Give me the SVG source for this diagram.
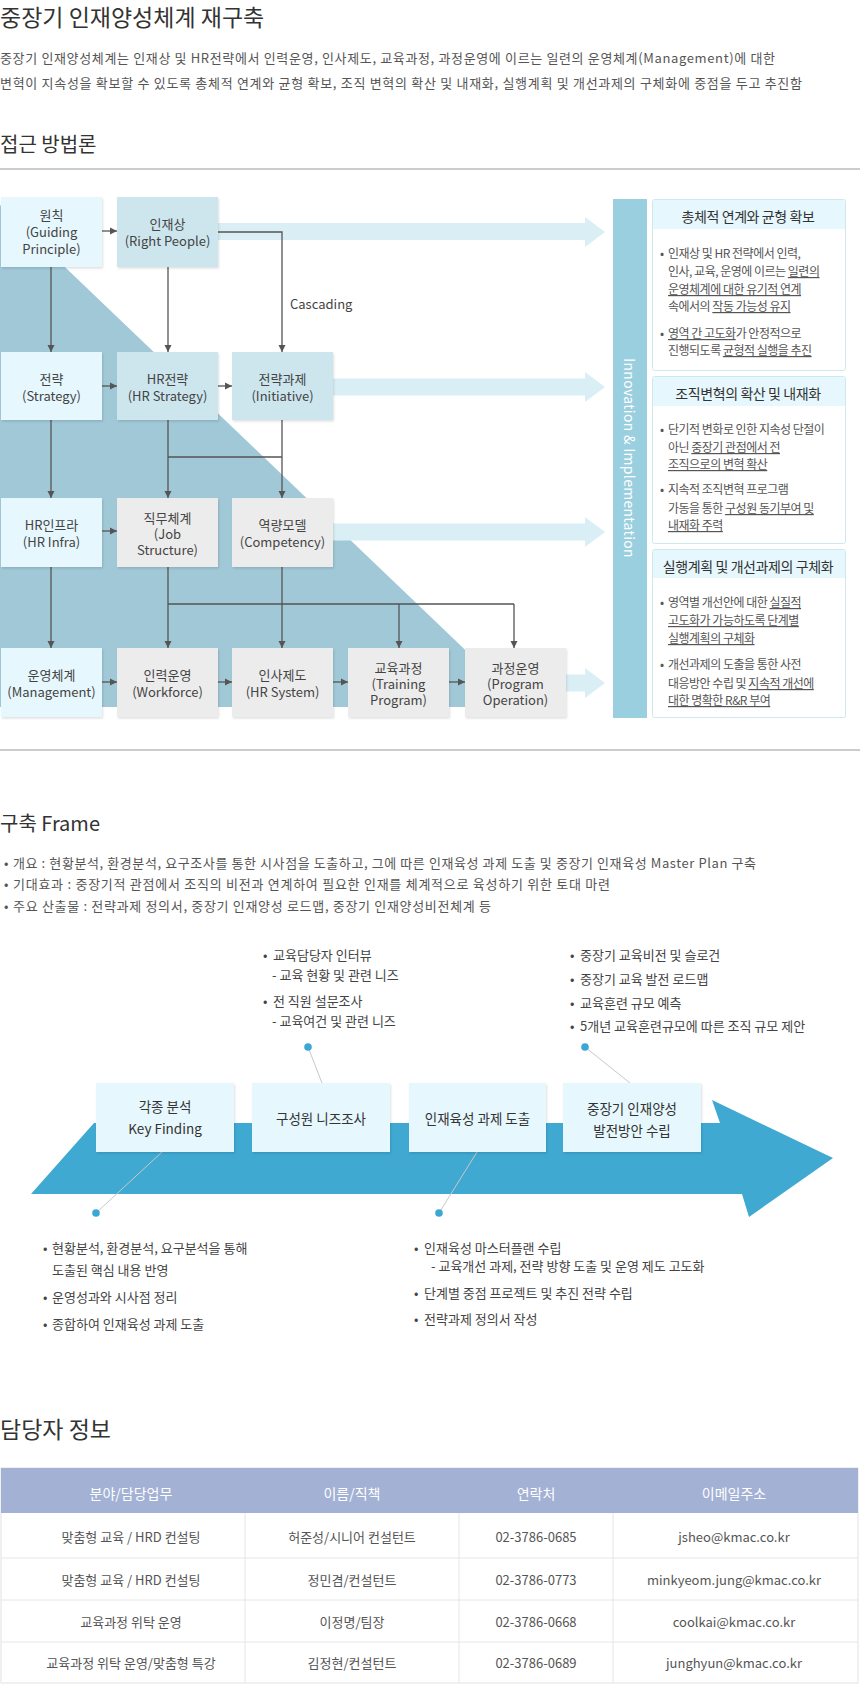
<svg xmlns="http://www.w3.org/2000/svg" width="860" height="1704" viewBox="0 0 860 1704">
<defs>
<style>
text{font-family:"Noto Sans CJK KR","Noto Sans",sans-serif;dominant-baseline:central}
.h1{font-size:23px;fill:#333}
.h2{font-size:20px;fill:#333}
.p{font-size:13px;fill:#555}
.bx{font-size:13px;fill:#444;text-anchor:middle}
.c1{fill:#e6f7fd}
.c2{fill:#cde6ee}
.c3{fill:#ececec}
.conn{stroke:#555;stroke-width:1.3;fill:none}
.arw{marker-end:url(#ah)}
.big{fill:#d9eff5}
.pnl{fill:#fff;stroke:#cfe8f0;stroke-width:1}
.phd{fill:#e6f7fd}
.ph{font-size:14px;fill:#333;text-anchor:middle;letter-spacing:-0.4px}
.pt{font-size:12px;fill:#555;letter-spacing:-0.5px}
.u{text-decoration:underline}
.ft{font-size:13px;fill:#444}
.fb{fill:#e6f7fd}
.fbt{font-size:13.5px;fill:#333;text-anchor:middle}
.lead{stroke:#c8c8c8;stroke-width:1}
.dot{fill:#3aa8d4}
.th{font-size:14px;fill:#fff;text-anchor:middle}
.td{font-size:13px;fill:#555;text-anchor:middle}
.grid{stroke:#e6e6e6;stroke-width:1}
</style>
<marker id="ah" markerUnits="userSpaceOnUse" markerWidth="8" markerHeight="8" refX="7" refY="4" orient="auto"><path d="M0,0.5 L7,4 L0,7.5 z" fill="#555"/></marker>
<filter id="sh" x="-5%" y="-5%" width="115%" height="120%"><feDropShadow dx="1" dy="1.5" stdDeviation="1" flood-color="#000" flood-opacity="0.12"/></filter>
</defs>
<rect width="860" height="1704" fill="#fff"/>

<!-- Header -->
<g id="header">
<text class="h1" x="0" y="16">중장기 인재양성체계 재구축</text>
<text class="p" x="0" y="57" textLength="775">중장기 인재양성체계는 인재상 및 HR전략에서 인력운영, 인사제도, 교육과정, 과정운영에 이르는 일련의 운영체계(Management)에 대한</text>
<text class="p" x="0" y="82" textLength="802">변혁이 지속성을 확보할 수 있도록 총체적 연계와 균형 확보, 조직 변혁의 확산 및 내재화, 실행계획 및 개선과제의 구체화에 중점을 두고 추진함</text>
<text class="h2" x="0" y="143">접근 방법론</text>
<rect x="0" y="168" width="860" height="2" fill="#cccccc"/>
</g>

<!-- Approach diagram background -->
<g id="background">
<polygon points="0,205 525,707 0,707" fill="#a0c8d6"/>
<polygon class="big" points="218,223 585,223 585,217 605,232 585,247 585,240 218,240"/>
<polygon class="big" points="333,378.5 585,378.5 585,372 605,387 585,402 585,395.5 333,395.5"/>
<polygon class="big" points="333,523.5 585,523.5 585,517 605,532 585,547 585,540.5 333,540.5"/>
<polygon class="big" points="566,674.5 585,674.5 585,668 605,683 585,698 585,691.5 566,691.5"/>
</g>

<g id="connectors">
<line class="conn arw" x1="102" y1="231" x2="117" y2="231"/>
<line class="conn arw" x1="51" y1="267" x2="51" y2="352"/>
<line class="conn arw" x1="168" y1="267" x2="168" y2="352"/>
<polyline class="conn arw" points="218,232 282,232 282,352"/>
<text x="290" y="303" font-size="13" fill="#444">Cascading</text>
<line class="conn arw" x1="102" y1="386" x2="117" y2="386"/>
<line class="conn arw" x1="218" y1="386" x2="232" y2="386"/>
<line class="conn arw" x1="51" y1="420" x2="51" y2="498"/>
<line class="conn arw" x1="168" y1="420" x2="168" y2="498"/>
<line class="conn arw" x1="282" y1="420" x2="282" y2="498"/>
<line class="conn" x1="168" y1="457" x2="282" y2="457"/>
<line class="conn arw" x1="102" y1="531" x2="117" y2="531"/>
<line class="conn arw" x1="51" y1="567" x2="51" y2="648"/>
<line class="conn arw" x1="168" y1="567" x2="168" y2="648"/>
<line class="conn arw" x1="282" y1="567" x2="282" y2="648"/>
<line class="conn" x1="168" y1="604" x2="514" y2="604"/>
<line class="conn arw" x1="399" y1="604" x2="399" y2="648"/>
<line class="conn arw" x1="514" y1="604" x2="514" y2="648"/>
<line class="conn arw" x1="102" y1="682" x2="117" y2="682"/>
<line class="conn arw" x1="218" y1="682" x2="232" y2="682"/>
<line class="conn arw" x1="333" y1="682" x2="348" y2="682"/>
<line class="conn arw" x1="449" y1="682" x2="465" y2="682"/>
</g>

<!-- Row 1 -->
<g id="n-principle"><rect class="c1" x="1" y="197" width="101" height="70" filter="url(#sh)"/>
<text class="bx" x="51.5"><tspan x="51.5" y="214">원칙</tspan><tspan x="51.5" y="231">(Guiding</tspan><tspan x="51.5" y="248">Principle)</tspan></text></g>
<g id="n-rightpeople"><rect class="c2" x="117" y="197" width="101" height="70" filter="url(#sh)"/>
<text class="bx"><tspan x="167.5" y="223">인재상</tspan><tspan x="167.5" y="240">(Right People)</tspan></text></g>
<!-- Row 2 -->
<g id="n-strategy"><rect class="c1" x="1" y="352" width="101" height="68" filter="url(#sh)"/>
<text class="bx"><tspan x="51.5" y="378">전략</tspan><tspan x="51.5" y="395">(Strategy)</tspan></text></g>
<g id="n-hrstrategy"><rect class="c2" x="117" y="352" width="101" height="68" filter="url(#sh)"/>
<text class="bx"><tspan x="167.5" y="378">HR전략</tspan><tspan x="167.5" y="395">(HR Strategy)</tspan></text></g>
<g id="n-initiative"><rect class="c2" x="232" y="352" width="101" height="68" filter="url(#sh)"/>
<text class="bx"><tspan x="282.5" y="378">전략과제</tspan><tspan x="282.5" y="395">(Initiative)</tspan></text></g>
<!-- Row 3 -->
<g id="n-hrinfra"><rect class="c1" x="1" y="498" width="101" height="69" filter="url(#sh)"/>
<text class="bx"><tspan x="51.5" y="524">HR인프라</tspan><tspan x="51.5" y="541">(HR Infra)</tspan></text></g>
<g id="n-job"><rect class="c3" x="117" y="498" width="101" height="69" filter="url(#sh)"/>
<text class="bx"><tspan x="167.5" y="517">직무체계</tspan><tspan x="167.5" y="533">(Job</tspan><tspan x="167.5" y="549">Structure)</tspan></text></g>
<g id="n-competency"><rect class="c3" x="232" y="498" width="101" height="69" filter="url(#sh)"/>
<text class="bx"><tspan x="282.5" y="524">역량모델</tspan><tspan x="282.5" y="541">(Competency)</tspan></text></g>
<!-- Row 4 -->
<g id="n-management"><rect class="c1" x="1" y="648" width="101" height="69" filter="url(#sh)"/>
<text class="bx"><tspan x="51.5" y="674">운영체계</tspan><tspan x="51.5" y="691">(Management)</tspan></text></g>
<g id="n-workforce"><rect class="c3" x="117" y="648" width="101" height="69" filter="url(#sh)"/>
<text class="bx"><tspan x="167.5" y="674">인력운영</tspan><tspan x="167.5" y="691">(Workforce)</tspan></text></g>
<g id="n-hrsystem"><rect class="c3" x="232" y="648" width="101" height="69" filter="url(#sh)"/>
<text class="bx"><tspan x="282.5" y="674">인사제도</tspan><tspan x="282.5" y="691">(HR System)</tspan></text></g>
<g id="n-training"><rect class="c3" x="348" y="648" width="101" height="69" filter="url(#sh)"/>
<text class="bx"><tspan x="398.5" y="667">교육과정</tspan><tspan x="398.5" y="683">(Training</tspan><tspan x="398.5" y="699">Program)</tspan></text></g>
<g id="n-operation"><rect class="c3" x="465" y="648" width="101" height="69" filter="url(#sh)"/>
<text class="bx"><tspan x="515.5" y="667">과정운영</tspan><tspan x="515.5" y="683">(Program</tspan><tspan x="515.5" y="699">Operation)</tspan></text></g>

<!-- Innovation bar -->
<g id="n-innovation">
<rect x="613" y="199" width="34" height="519" fill="#9acfe0"/>
<text transform="translate(630,458) rotate(90)" text-anchor="middle" font-size="14" fill="#fff" letter-spacing="0.3">Innovation &amp; Implementation</text>
</g>

<!-- Panels -->
<g id="panel-1">
<rect class="pnl" x="652.5" y="199.5" width="193" height="171" rx="2"/>
<rect class="phd" x="653" y="200" width="192" height="29"/>
<text class="ph" x="748" y="216">총체적 연계와 균형 확보</text>
<text class="pt" x="660" y="252">•</text>
<text class="pt" x="668" y="252">인재상 및 HR 전략에서 인력,</text>
<text class="pt" x="668" y="270">인사, 교육, 운영에 이르는 <tspan class="u">일련의</tspan></text>
<text class="pt" x="668" y="288"><tspan class="u">운영체계에 대한 유기적 연계</tspan></text>
<text class="pt" x="668" y="305">속에서의 <tspan class="u">작동 가능성 유지</tspan></text>
<text class="pt" x="660" y="332">•</text>
<text class="pt" x="668" y="332"><tspan class="u">영역 간 고도화</tspan>가 안정적으로</text>
<text class="pt" x="668" y="349">진행되도록 <tspan class="u">균형적 실행을 추진</tspan></text>
</g>
<g id="panel-2">
<rect class="pnl" x="652.5" y="376.5" width="193" height="167" rx="2"/>
<rect class="phd" x="653" y="377" width="192" height="29"/>
<text class="ph" x="748" y="393">조직변혁의 확산 및 내재화</text>
<text class="pt" x="660" y="428">•</text>
<text class="pt" x="668" y="428">단기적 변화로 인한 지속성 단절이</text>
<text class="pt" x="668" y="446">아닌 <tspan class="u">중장기 관점에서 전 </tspan></text>
<text class="pt" x="668" y="463"><tspan class="u">조직으로의 변혁 확산</tspan></text>
<text class="pt" x="660" y="488">•</text>
<text class="pt" x="668" y="488">지속적 조직변혁 프로그램</text>
<text class="pt" x="668" y="507">가동을 통한 <tspan class="u">구성원 동기부여 및</tspan></text>
<text class="pt" x="668" y="524"><tspan class="u">내재화 주력</tspan></text>
</g>
<g id="panel-3">
<rect class="pnl" x="652.5" y="549.5" width="193" height="168" rx="2"/>
<rect class="phd" x="653" y="550" width="192" height="28"/>
<text class="ph" x="748" y="566">실행계획 및 개선과제의 구체화</text>
<text class="pt" x="660" y="601">•</text>
<text class="pt" x="668" y="601">영역별 개선안에 대한 <tspan class="u">실질적</tspan></text>
<text class="pt" x="668" y="619"><tspan class="u">고도화가 가능하도록 단계별</tspan></text>
<text class="pt" x="668" y="637"><tspan class="u">실행계획의 구체화</tspan></text>
<text class="pt" x="660" y="663">•</text>
<text class="pt" x="668" y="663">개선과제의 도출을 통한 사전</text>
<text class="pt" x="668" y="682">대응방안 수립 및 <tspan class="u">지속적 개선에</tspan></text>
<text class="pt" x="668" y="699"><tspan class="u">대한 명확한 R&amp;R 부여</tspan></text>
</g>

<rect x="0" y="749" width="860" height="2" fill="#cccccc"/>

<!-- Frame section -->
<g id="frame-header">
<text class="h2" x="0" y="822">구축 Frame</text>
<text class="p" x="4" y="862">•</text>
<text class="p" x="13" y="862" textLength="743">개요 : 현황분석, 환경분석, 요구조사를 통한 시사점을 도출하고, 그에 따른 인재육성 과제 도출 및 중장기 인재육성 Master Plan 구축</text>
<text class="p" x="4" y="883">•</text>
<text class="p" x="13" y="883" textLength="597">기대효과 : 중장기적 관점에서 조직의 비전과 연계하여 필요한 인재를 체계적으로 육성하기 위한 토대 마련</text>
<text class="p" x="4" y="905">•</text>
<text class="p" x="13" y="905" textLength="478">주요 산출물 : 전략과제 정의서, 중장기 인재양성 로드맵, 중장기 인재양성비전체계 등</text>
</g>

<g id="frame-arrow">
<polygon points="94,1123 720,1123 712,1100 833,1158 749,1217 742,1194 31,1194" fill="#3fa9d1"/>
</g>

<g id="frame-leaders">
<line class="lead" x1="308" y1="1047" x2="322" y2="1083"/>
<line class="lead" x1="585" y1="1047" x2="630" y2="1083"/>
<line class="lead" x1="162" y1="1152" x2="96" y2="1213"/>
<line class="lead" x1="477" y1="1152" x2="439" y2="1213"/>
<circle class="dot" cx="308" cy="1047" r="3.8"/>
<circle class="dot" cx="585" cy="1047" r="3.8"/>
<circle class="dot" cx="96" cy="1213" r="3.8"/>
<circle class="dot" cx="439" cy="1213" r="3.8"/>
</g>

<g id="f-keyfinding"><rect class="fb" x="96" y="1083" width="138" height="69" filter="url(#sh)"/>
<text class="fbt"><tspan x="165" y="1106">각종 분석</tspan><tspan x="165" y="1128">Key Finding</tspan></text></g>
<g id="f-needs"><rect class="fb" x="252" y="1083" width="138" height="69" filter="url(#sh)"/>
<text class="fbt" x="321" y="1118">구성원 니즈조사</text></g>
<g id="f-tasks"><rect class="fb" x="409" y="1083" width="137" height="69" filter="url(#sh)"/>
<text class="fbt" x="477.5" y="1118">인재육성 과제 도출</text></g>
<g id="f-plan"><rect class="fb" x="563" y="1083" width="138" height="69" filter="url(#sh)"/>
<text class="fbt"><tspan x="632" y="1108">중장기 인재양성</tspan><tspan x="632" y="1130">발전방안 수립</tspan></text></g>

<g id="f-notes-needs">
<text class="ft" x="263" y="954">•</text>
<text class="ft" x="273" y="954">교육담당자 인터뷰</text>
<text class="ft" x="272" y="974">- 교육 현황 및 관련 니즈</text>
<text class="ft" x="263" y="1000">•</text>
<text class="ft" x="273" y="1000">전 직원 설문조사</text>
<text class="ft" x="272" y="1020">- 교육여건 및 관련 니즈</text>
</g>
<g id="f-notes-plan">
<text class="ft" x="570" y="954">•</text>
<text class="ft" x="580" y="954">중장기 교육비전 및 슬로건</text>
<text class="ft" x="570" y="978">•</text>
<text class="ft" x="580" y="978">중장기 교육 발전 로드맵</text>
<text class="ft" x="570" y="1002">•</text>
<text class="ft" x="580" y="1002">교육훈련 규모 예측</text>
<text class="ft" x="570" y="1025">•</text>
<text class="ft" x="580" y="1025">5개년 교육훈련규모에 따른 조직 규모 제안</text>
</g>
<g id="f-notes-key">
<text class="ft" x="43" y="1247">•</text>
<text class="ft" x="52" y="1247">현황분석, 환경분석, 요구분석을 통해</text>
<text class="ft" x="52" y="1269">도출된 핵심 내용 반영</text>
<text class="ft" x="43" y="1296">•</text>
<text class="ft" x="52" y="1296">운영성과와 시사점 정리</text>
<text class="ft" x="43" y="1323">•</text>
<text class="ft" x="52" y="1323">종합하여 인재육성 과제 도출</text>
</g>
<g id="f-notes-tasks">
<text class="ft" x="414" y="1247">•</text>
<text class="ft" x="424" y="1247">인재육성 마스터플랜 수립</text>
<text class="ft" x="431" y="1265">- 교육개선 과제, 전략 방향 도출 및  운영 제도 고도화</text>
<text class="ft" x="414" y="1292">•</text>
<text class="ft" x="424" y="1292">단계별 중점 프로젝트 및 추진 전략 수립</text>
<text class="ft" x="414" y="1318">•</text>
<text class="ft" x="424" y="1318">전략과제 정의서 작성</text>
</g>

<!-- Contacts -->
<g id="contacts">
<text class="h1" x="0" y="1428">담당자 정보</text>
<rect x="1" y="1468" width="857" height="215" fill="#fff" stroke="#e2e2e2"/>
<rect x="1" y="1468" width="857" height="45" fill="#a3b1d5"/>
<line class="grid" x1="1" y1="1558" x2="858" y2="1558"/>
<line class="grid" x1="1" y1="1600" x2="858" y2="1600"/>
<line class="grid" x1="1" y1="1642" x2="858" y2="1642"/>
<line class="grid" x1="245" y1="1513" x2="245" y2="1683"/>
<line class="grid" x1="459" y1="1513" x2="459" y2="1683"/>
<line class="grid" x1="613" y1="1513" x2="613" y2="1683"/>
<text class="th" x="131" y="1493">분야/담당업무</text>
<text class="th" x="352" y="1493">이름/직책</text>
<text class="th" x="536" y="1493">연락처</text>
<text class="th" x="734" y="1493">이메일주소</text>
<text class="td" x="131" y="1536">맞춤형 교육 / HRD 컨설팅</text>
<text class="td" x="352" y="1536">허준성/시니어 컨설턴트</text>
<text class="td" x="536" y="1536">02-3786-0685</text>
<text class="td" x="734" y="1536">jsheo@kmac.co.kr</text>
<text class="td" x="131" y="1579">맞춤형 교육 / HRD 컨설팅</text>
<text class="td" x="352" y="1579">정민겸/컨설턴트</text>
<text class="td" x="536" y="1579">02-3786-0773</text>
<text class="td" x="734" y="1579">minkyeom.jung@kmac.co.kr</text>
<text class="td" x="131" y="1621">교육과정 위탁 운영</text>
<text class="td" x="352" y="1621">이정명/팀장</text>
<text class="td" x="536" y="1621">02-3786-0668</text>
<text class="td" x="734" y="1621">coolkai@kmac.co.kr</text>
<text class="td" x="131" y="1662">교육과정 위탁 운영/맞춤형 특강</text>
<text class="td" x="352" y="1662">김정현/컨설턴트</text>
<text class="td" x="536" y="1662">02-3786-0689</text>
<text class="td" x="734" y="1662">junghyun@kmac.co.kr</text>
</g>
</svg>
